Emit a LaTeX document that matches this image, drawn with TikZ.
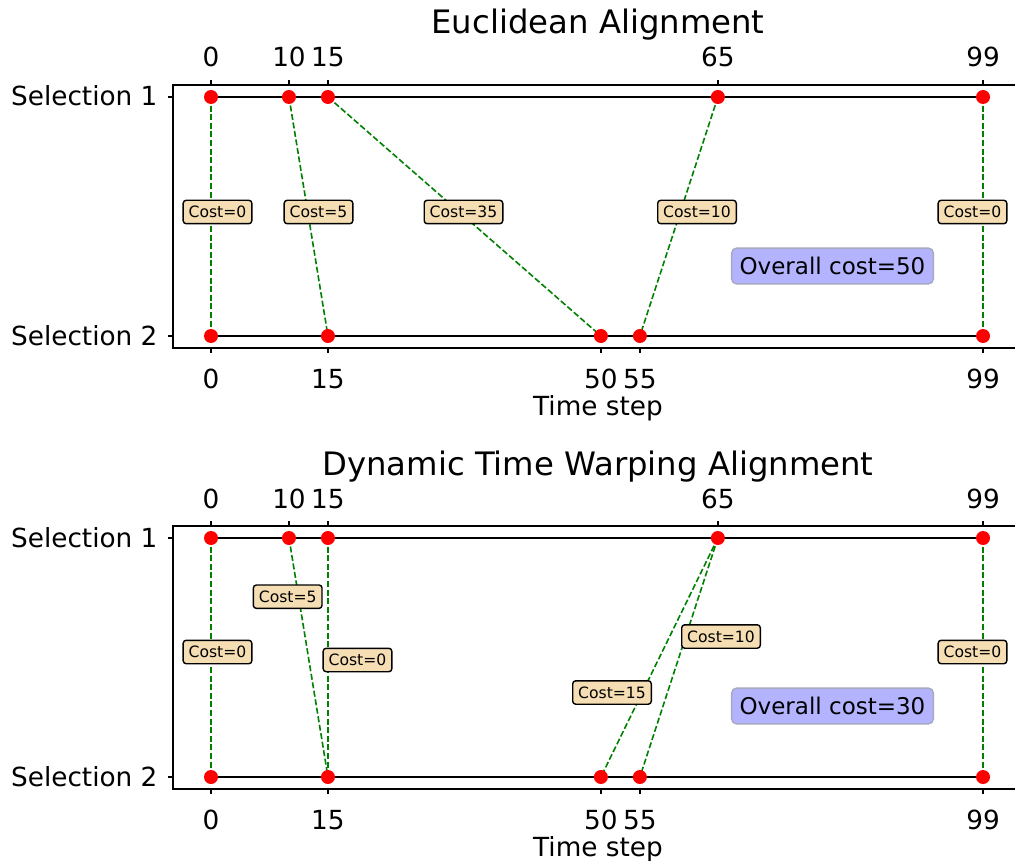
\documentclass[tikz,border=0pt]{standalone}
\usepackage{fontspec}
\setmainfont{DejaVu Sans}
\usetikzlibrary{positioning}
\definecolor{wheatbox}{RGB}{245,222,179}
\definecolor{sumfill}{RGB}{179,179,255}
\definecolor{sumedge}{RGB}{168,168,190}
\definecolor{pathgreen}{RGB}{0,128,0}
\tikzset{
    %Define style for the time points
    pnt/.style={
        circle,
        fill=red,
        inner sep=0pt,
        minimum size=14pt},
    %Define style for the cost labels
    costbox/.style={
        rectangle,
        rounded corners=3pt,
        draw=black, line width=1.4pt,
        fill=wheatbox,
        font=\fontsize{15.6}{18}\selectfont,
        text height=11.4pt, text depth=0pt,
        inner xsep=5.5pt, inner ysep=6pt},
    %Define style for the overall cost
    sumbox/.style={
        rectangle,
        rounded corners=5pt,
        draw=sumedge, line width=1.4pt,
        fill=sumfill,
        font=\fontsize{23}{27}\selectfont,
        text height=16.8pt, text depth=0pt,
        inner xsep=8pt, inner ysep=9.5pt},
    % Define line styles
    row/.style={draw=black, line width=1.6pt},
    match/.style={draw=pathgreen, line width=1.6pt, dash pattern=on 6pt off 2.6pt},
    spine/.style={draw=black, line width=1.6pt},
    tck/.style={draw=black, line width=1.3pt},
    ticklab/.style={font=\fontsize{26.3}{31}\selectfont},
    ttl/.style={font=\fontsize{32.3}{38}\selectfont}
}
\begin{document}
\begin{tikzpicture}[x=1pt, y=-1pt]
    \path[use as bounding box, clip] (0,0) rectangle (1015,861);
    %%% Euclidean panel
    \node[ttl, anchor=base] (title1) at (598,34) {Euclidean Alignment};
    \draw[spine] (173,85) rectangle (1023,348);
    \foreach \v in {0,10,15,65,99} {
        \coordinate (ea\v) at ({211+7.798*\v},97);
        \draw[tck] ({211+7.798*\v},85) -- ++(0,-5);
        \node[ticklab, anchor=base] (eta\v) at ({211+7.798*\v},67) {\v};
    }
    \foreach \v in {0,15,50,55,99} {
        \coordinate (eb\v) at ({211+7.798*\v},336);
        \draw[tck] ({211+7.798*\v},348) -- ++(0,5);
        \node[ticklab, anchor=base] (etb\v) at ({211+7.798*\v},388) {\v};
    }
    \draw[tck] (173,97) -- ++(-5,0);
    \draw[tck] (173,336) -- ++(-5,0);
    \node[ticklab, anchor=base east] (esel1) at (161,106) {Selection 1};
    \node[ticklab, anchor=base east] (esel2) at (161,345) {Selection 2};
    \node[ticklab, anchor=base] (exlab) at (598,415) {Time step};
    % rows and matches
    \draw[row] (ea0) -- (ea99);
    \draw[row] (eb0) -- (eb99);
    \draw[match] (ea0) -- (eb0);
    \draw[match] (ea10) -- (eb15);
    \draw[match] (ea15) -- (eb50);
    \draw[match] (ea65) -- (eb55);
    \draw[match] (ea99) -- (eb99);
    \foreach \v in {0,10,15,65,99} \node[pnt] (eda\v) at (ea\v) {};
    \foreach \v in {0,15,50,55,99} \node[pnt] (edb\v) at (eb\v) {};
    % cost labels
    \node[costbox] (ec1) at (217.5,212) {Cost=0};
    \node[costbox] (ec2) at (318.5,212) {Cost=5};
    \node[costbox] (ec3) at (463.5,212) {Cost=35};
    \node[costbox] (ec4) at (697,212) {Cost=10};
    \node[costbox] (ec5) at (972.5,212) {Cost=0};
    \node[sumbox] (esum) at (832.5,266) {Overall cost=50};

    %%% DTW panel
    \node[ttl, anchor=base] (title2) at (598,475) {Dynamic Time Warping Alignment};
    \draw[spine] (173,526) rectangle (1023,789);
    \foreach \v in {0,10,15,65,99} {
        \coordinate (da\v) at ({211+7.798*\v},538);
        \draw[tck] ({211+7.798*\v},526) -- ++(0,-5);
        \node[ticklab, anchor=base] (dta\v) at ({211+7.798*\v},508) {\v};
    }
    \foreach \v in {0,15,50,55,99} {
        \coordinate (db\v) at ({211+7.798*\v},777);
        \draw[tck] ({211+7.798*\v},789) -- ++(0,5);
        \node[ticklab, anchor=base] (dtb\v) at ({211+7.798*\v},829) {\v};
    }
    \draw[tck] (173,538) -- ++(-5,0);
    \draw[tck] (173,777) -- ++(-5,0);
    \node[ticklab, anchor=base east] (dsel1) at (161,547) {Selection 1};
    \node[ticklab, anchor=base east] (dsel2) at (161,786) {Selection 2};
    \node[ticklab, anchor=base] (dxlab) at (598,856) {Time step};
    % rows and matches
    \draw[row] (da0) -- (da99);
    \draw[row] (db0) -- (db99);
    \draw[match] (da0) -- (db0);
    \draw[match] (da10) -- (db15);
    \draw[match] (da15) -- (db15);
    \draw[match] (da65) -- (db50);
    \draw[match] (da65) -- (db55);
    \draw[match] (da99) -- (db99);
    \foreach \v in {0,10,15,65,99} \node[pnt] (dda\v) at (da\v) {};
    \foreach \v in {0,15,50,55,99} \node[pnt] (ddb\v) at (db\v) {};
    % cost labels
    \node[costbox] (dc1) at (217.5,652) {Cost=0};
    \node[costbox] (dc2) at (287.7,596.7) {Cost=5};
    \node[costbox] (dc3) at (357.5,660) {Cost=0};
    \node[costbox] (dc4) at (612,692.5) {Cost=15};
    \node[costbox] (dc5) at (721,636.5) {Cost=10};
    \node[costbox] (dc6) at (972.5,652) {Cost=0};
    \node[sumbox] (dsum) at (832.5,706) {Overall cost=30};
\end{tikzpicture}
\end{document}
